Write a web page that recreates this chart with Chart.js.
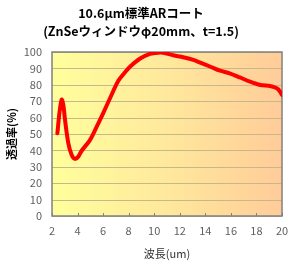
<!DOCTYPE html>
<html><head><meta charset="utf-8">
<script src="https://cdn.jsdelivr.net/npm/chart.js@4"></script>
<style>html,body{margin:0;padding:0;background:#fff}canvas{display:block}</style>
</head><body>
<canvas id="c" width="300" height="270"></canvas>
<script>
const titleLines = ['10.6\u03bcm標準ARコート', '(ZnSeウィンドウ\u03c620mm、t=1.5)'];
const xTitle = '波長(um)';
const yTitle = '透過率(%)';
const wavelength = [2.42,2.6,2.76,2.9,3.02,3.28,3.54,3.8,4.06,4.32,4.97,5.5,6.0,6.54,7.19,7.7,8.1,8.9,9.67,10.3,10.7,11.0,11.5,12.27,13.0,13.6,14.4,15.15,15.9,16.7,17.5,18.3,19.06,19.4,19.7,20.0];
const transmittance = [50.4,64,71,67,58.5,44.3,37.2,34.8,36.2,39.8,46.3,54.5,62.6,71.8,82.4,87.5,91,96,98.8,99.6,99.6,99,98,96.8,95.3,93.5,91,88.6,87,84.5,81.9,79.9,79.3,78.5,77.3,73.8];
const xTicks = [2,4,6,8,10,12,14,16,18,20];
const yTicks = [0,10,20,30,40,50,60,70,80,90,100];

const FONT = '"Noto Sans CJK JP", "Noto Sans", sans-serif';

const bgPlugin = {
  id: 'bg',
  beforeDatasetsDraw(chart) {
    const {ctx, chartArea: a} = chart;
    ctx.save();
    const g = ctx.createLinearGradient(a.left, 0, a.right, 0);
    g.addColorStop(0, '#FFFF9C');
    g.addColorStop(0.5, '#FFE89C');
    g.addColorStop(1, '#FFCC99');
    ctx.fillStyle = g;
    ctx.fillRect(a.left, a.top, a.right - a.left, a.bottom - a.top);
    const ys = chart.scales.y;
    ctx.strokeStyle = '#C4B88C';
    ctx.lineWidth = 1;
    yTicks.forEach(v => {
      const py = Math.round(ys.getPixelForValue(v)) + 0.5;
      ctx.beginPath(); ctx.moveTo(a.left, py); ctx.lineTo(a.right, py); ctx.stroke();
    });
    const xs = chart.scales.x;
    ctx.strokeStyle = '#808080';
    xTicks.forEach(v => {
      const px = Math.round(xs.getPixelForValue(v)) + 0.5;
      ctx.beginPath(); ctx.moveTo(px, a.bottom); ctx.lineTo(px, a.bottom - 3); ctx.stroke();
    });
    ctx.strokeStyle = '#808080';
    ctx.lineWidth = 1.5;
    ctx.strokeRect(a.left, a.top, a.right - a.left, a.bottom - a.top);
    ctx.restore();
  }
};

new Chart(document.getElementById('c'), {
  type: 'line',
  data: {
    datasets: [{
      data: wavelength.map((x, i) => ({x, y: transmittance[i]})),
      borderColor: '#FF0000',
      borderWidth: 4,
      pointRadius: 0,
      tension: 0.3,
      fill: false,
      borderCapStyle: 'round',
      borderJoinStyle: 'round'
    }]
  },
  options: {
    responsive: false,
    animation: false,
    layout: {padding: {left: 0, right: 18, top: 0, bottom: 0}},
    plugins: {
      legend: {display: false},
      tooltip: {enabled: false},
      title: {
        display: true,
        text: titleLines,
        color: '#000',
        font: {family: FONT, size: 12.5, weight: 'bold', lineHeight: 1.45},
        padding: {top: 4, bottom: 11.75}
      }
    },
    scales: {
      x: {
        type: 'linear', min: 2, max: 20,
        afterBuildTicks(s) { s.ticks = xTicks.map(v => ({value: v})); },
        afterFit(s) { s.height = 54; },
        grid: {display: false, drawTicks: false},
        border: {display: false},
        ticks: {color: '#606060', font: {family: FONT, size: 11}, padding: 8},
        title: {display: true, text: xTitle, color: '#333', font: {family: FONT, size: 11}, padding: {top: 0, bottom: 10}}
      },
      y: {
        min: 0, max: 100,
        afterBuildTicks(s) { s.ticks = yTicks.map(v => ({value: v})); },
        afterFit(s) { s.width = 52; },
        grid: {display: false, drawTicks: false},
        border: {display: false},
        ticks: {color: '#606060', font: {family: FONT, size: 11}, padding: 10},
        title: {display: true, text: yTitle, color: '#000', font: {family: FONT, size: 11, weight: 'bold'}, padding: {top: 5, bottom: 0}}
      }
    }
  },
  plugins: [bgPlugin]
});
</script>
</body></html>
